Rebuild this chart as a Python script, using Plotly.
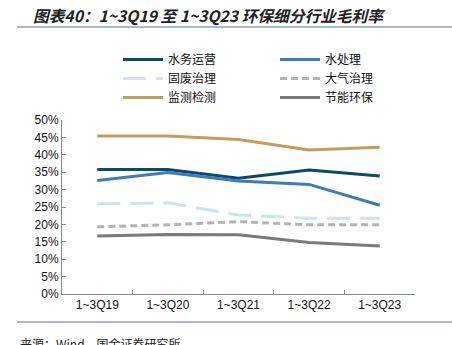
import plotly.graph_objects as go

categories = ["1~3Q19", "1~3Q20", "1~3Q21", "1~3Q22", "1~3Q23"]
series_names = ["水务运营", "水处理", "固废治理", "大气治理", "监测检测", "节能环保"]
water_ops = [35.8, 35.8, 33.3, 35.6, 33.9]
water_treat = [32.6, 34.9, 32.5, 31.5, 25.5]
solid_waste = [25.9, 26.2, 22.7, 21.8, 21.8]
air = [19.3, 19.9, 20.8, 19.9, 19.9]
monitoring = [45.4, 45.4, 44.4, 41.4, 42.2]
energy = [16.7, 17.1, 17.0, 14.8, 13.8]
y_ticks = [0, 5, 10, 15, 20, 25, 30, 35, 40, 45, 50]
y_tick_labels = [f"{v}%" for v in y_ticks]

values = [water_ops, water_treat, solid_waste, air, monitoring, energy]
colors = ["#0a4a6e", "#3d7cc2", "#cfe1f2", "#b4b4b4", "#c49e58", "#7a7a7a"]
dashes = ["solid", "solid", "23px,10px", "7px,4px", "solid", "solid"]

fig = go.Figure()
for name, vals, c, d in zip(series_names, values, colors, dashes):
    fig.add_trace(go.Scatter(x=categories, y=vals, name=name, mode="lines",
                             line=dict(color=c, width=3, dash=d)))

W, H = 452, 345
L, R, T, B = 62, 37, 120, 51
ph = H - T - B
pw = W - L - R

def py(px):
    return (H - B - px) / ph

def pxx(px):
    return (px - L) / pw

fig.update_layout(
    width=W, height=H,
    margin=dict(l=L, r=R, t=T, b=B),
    paper_bgcolor="white", plot_bgcolor="white",
    font=dict(family="Liberation Sans, Arial, sans-serif", size=12, color="#111"),
    title=dict(text="<i><b>图表40：1~3Q19 至 1~3Q23 环保细分行业毛利率</b></i>",
               xref="container", yref="container", x=33 / W, xanchor="left",
               y=1 - 17 / H, yanchor="middle",
               font=dict(family="Noto Sans CJK SC", size=15.7, color="#222")),
    legend=dict(orientation="h", x=pxx(118), xanchor="left", y=py(45), yanchor="top",
                entrywidth=102, entrywidthmode="pixels", tracegroupgap=0,
                font=dict(family="Noto Sans CJK SC", size=12, color="#111"),
                itemwidth=40, bgcolor="rgba(0,0,0,0)"),
    showlegend=True,
)
fig.update_xaxes(type="category", range=[-0.5, 4.5], showline=True, linecolor="#888", linewidth=1,
                 ticks="inside", ticklen=4, tickcolor="#888", tickson="boundaries",
                 showgrid=False, tickfont=dict(size=12, color="#111"))
fig.update_yaxes(range=[0, 50], tickvals=y_ticks, ticktext=y_tick_labels,
                 showline=True, linecolor="#888", linewidth=1,
                 ticks="inside", ticklen=4, tickcolor="#888",
                 showgrid=False, zeroline=False, tickfont=dict(size=12, color="#111"))

fig.add_shape(type="line", xref="paper", yref="paper", x0=pxx(17), x1=pxx(452),
              y0=py(27), y1=py(27), line=dict(color="#8fa3ba", width=1.5))
fig.add_shape(type="line", xref="paper", yref="paper", x0=pxx(17), x1=pxx(452),
              y0=py(322), y1=py(322), line=dict(color="#8fa3ba", width=1.5))
fig.add_annotation(text="来源：Wind，国金证券研究所", xref="paper", yref="paper",
                   x=pxx(18), y=py(333), xanchor="left", yanchor="top", showarrow=False,
                   font=dict(family="Noto Sans CJK SC", size=12, color="#222"))

fig.write_html("out.html")
